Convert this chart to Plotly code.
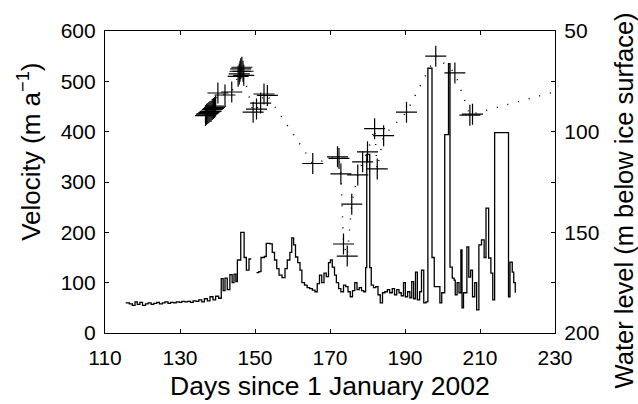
import plotly.graph_objects as go

# Ice velocity (stepped record), day of year 2002 and m/a
vel_day = [115.5, 116.5, 117.3, 118.0, 118.6, 119.3, 120.0, 120.8, 121.5, 122.3,
           123.0, 123.8, 124.5, 125.3, 126.0, 126.8, 127.5, 128.3, 129.0, 129.8,
           130.5, 131.3, 132.0, 132.8, 133.5, 134.3, 135.0, 135.8, 136.5, 137.3,
           138.0, 138.8, 139.5, 140.3, 141.0, 141.5, 142.0, 142.6, 143.3, 143.9,
           144.4, 144.9, 145.3, 146.2, 147.1, 147.7, 148.4, 149.0, 149.1,
           150.4, 151.0, 151.6, 152.5, 153.0, 154.0, 154.6, 155.2, 155.8, 156.4,
           157.2, 158.0, 158.6, 159.3, 159.8, 160.3, 160.8, 161.4, 162.0, 162.5,
           163.2, 163.9, 164.6, 165.3, 166.0, 166.6, 167.2, 167.8, 168.4, 169.0,
           169.6, 170.1, 170.6, 171.2, 171.7, 172.3, 172.9, 173.6, 174.2, 174.8,
           175.4, 176.0, 176.6, 177.2, 177.8, 178.4, 179.0, 179.5, 179.8, 180.6,
           181.0, 181.6, 182.2, 182.8, 183.4, 184.0, 184.6, 185.3, 185.9, 186.6,
           187.2, 187.8, 188.4, 189.0, 189.6, 190.1, 190.7, 191.3, 191.8, 192.3,
           192.8, 193.3, 193.9, 194.4, 195.0, 195.6, 196.1, 197.2, 197.8, 198.5,
           199.3, 199.8, 200.6, 201.6, 202.0, 202.6, 203.1, 203.4, 203.9, 204.4,
           204.9, 205.2, 205.6, 206.5, 207.0, 207.5, 208.0, 208.6, 209.1, 209.7,
           210.4, 211.1, 211.6, 212.3, 212.9, 213.4, 213.9, 217.6, 218.0, 218.6,
           219.0, 219.4]
vel_val = [60, 58, 55, 62, 57, 61, 55, 58, 60, 57,
           59, 61, 58, 60, 62, 59, 61, 60, 62, 61,
           63, 62, 63, 61, 64, 63, 66, 62, 68, 64,
           72, 66, 73, 69, 108, 84, 109, 86, 116, 100,
           117, 102, 145, 200, 150, 125, 147, 147, None,
           120, 122, 150, 152, 178, 177, 160, 145, 128, 115,
           110, 128, 145, 160, 189, 175, 151, 140, 125, 100,
           95, 90, 88, 85, 82, 98, 115, 100, 119, 112,
           140, 145, 131, 115, 100, 88, 82, 95, 92, 82,
           72, 84, 100, 86, 90, 84, 82, 130, 355, 130,
           95, 90, 92, 76, 60, 80, 82, 86, 80, 88,
           76, 86, 80, 74, 100, 72, 82, 70, 102, 68,
           121, 66, 82, 125, 60, 62, 526, 150, 92, 92,
           60, 80, 394, 535, 131, 109, 105, 76, 100, 80,
           165, 50, 80, 171, 111, 125, 72, 100, 46, 175,
           185, 150, 248, 149, 119, 66, 398, 72, 141, 121,
           100, 80]

# Borehole water level, m below ice surface
wl_day = [136.8, 137.1, 137.4, 137.7, 138.0, 138.3, 138.6, 138.9, 139.2, 139.5,
          140.1, 142.0, 143.8, 145.5, 145.8, 146.0, 146.2, 146.5, 146.8, 147.0,
          149.5, 150.4, 151.5, 152.4, 153.3, 165.4, 172.0, 172.4, 172.9, 173.6,
          174.6, 175.8, 177.4, 178.7, 180.0, 181.9, 182.6, 184.3, 190.4, 198.2,
          203.3, 207.3, 208.0, 240.0]
wl_val = [92.0, 91.3, 91.0, 90.5, 90.0, 89.8, 89.0, 88.5, 88.0, 87.3,
          80.8, 81.8, 80.3, 72.5, 71.3, 70.0, 68.8, 68.0, 70.0, 72.0,
          90.3, 88.8, 85.8, 81.3, 82.0, 115.8, 112.5, 113.3, 121.0, 155.8,
          161.8, 136.0, 121.5, 115.0, 110.0, 98.5, 118.5, 102.0, 90.3, 62.5,
          70.8, 91.8, 91.3, 75.0]

x_ticks = [110, 130, 150, 170, 190, 210, 230]
vel_ticks = [0, 100, 200, 300, 400, 500, 600]
wl_ticks = [50, 100, 150, 200]

FONT = "Liberation Sans, Arial, sans-serif"

fig = go.Figure()

fig.add_trace(go.Scatter(
    x=vel_day, y=vel_val, mode="lines", line_shape="hv",
    line=dict(color="black", width=1.3), connectgaps=False,
    yaxis="y", showlegend=False,
))

fig.add_trace(go.Scatter(
    x=wl_day, y=wl_val, mode="lines+markers",
    line=dict(color="black", width=1.5, dash="1px,10px"),
    marker=dict(symbol="cross-thin", size=15, color="black",
                line=dict(color="black", width=1.2)),
    yaxis="y2", showlegend=False, cliponaxis=True,
))

axis_common = dict(
    showline=True, linecolor="black", linewidth=1.2,
    ticks="inside", ticklen=4, tickcolor="black", tickwidth=1,
    showgrid=False, zeroline=False,
    tickfont=dict(family=FONT, size=21, color="black"),
)

fig.update_layout(
    width=638, height=404,
    margin=dict(l=105, r=83, t=31, b=71),
    paper_bgcolor="white", plot_bgcolor="white",
    xaxis=dict(range=[110, 230], tickvals=x_ticks, mirror="ticks",
               ticklabelstandoff=6, **axis_common),
    yaxis=dict(range=[0, 600], tickvals=vel_ticks, ticklabelstandoff=4,
               **axis_common),
    yaxis2=dict(range=[200, 50], tick0=50, dtick=50,
                minor=dict(dtick=25, ticks="inside", ticklen=4,
                           tickcolor="black", tickwidth=1),
                overlaying="y", side="right", anchor="x",
                ticklabelstandoff=4, **axis_common),
    annotations=[
        dict(text="Days since 1 January 2002", xref="paper", yref="paper",
             x=0.5, y=-0.1755, showarrow=False, xanchor="center", yanchor="middle",
             font=dict(family=FONT, size=26.5, color="black")),
        dict(text="Velocity (m a<sup>−1</sup>)", xref="paper", yref="paper",
             x=-0.1667, y=0.6, showarrow=False, textangle=-90,
             xanchor="center", yanchor="middle",
             font=dict(family=FONT, size=26, color="black")),
        dict(text="Water level (m below ice surface)", xref="paper", yref="paper",
             x=1.154, y=0.44, showarrow=False, textangle=-90,
             xanchor="center", yanchor="middle",
             font=dict(family=FONT, size=25.5, color="black")),
    ],
)

fig.write_html("out.html")
